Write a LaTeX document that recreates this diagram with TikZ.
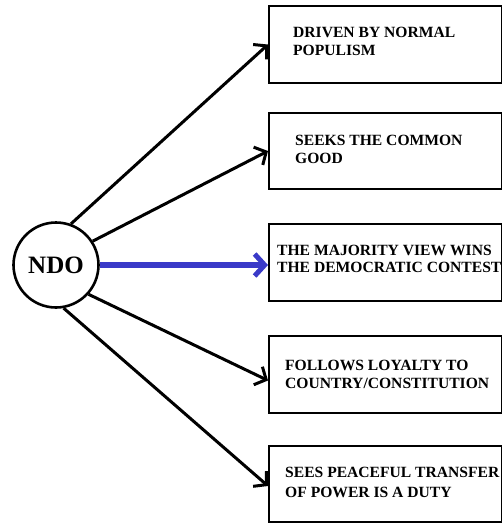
\documentclass[tikz,border=0pt]{standalone}
\usepackage{fontspec}
\setmainfont{Liberation Serif}
\usetikzlibrary{arrows.meta,calc}
\definecolor{arrowblue}{RGB}{58,58,200}
\begin{document}
\begin{tikzpicture}[x=1pt,y=-1pt,
  box/.style={draw=black,line width=2pt,rectangle,inner sep=0pt,anchor=north west},
  boxtext/.style={anchor=north west,inner sep=0pt,align=left,font=\bfseries\fontsize{15.6}{18}\selectfont},
  conn/.style={draw=black,line width=3pt,-{Straight Barb[length=9pt,width=20pt,line width=3pt]}},
  blueconn/.style={draw=arrowblue,line width=5.5pt,-{Straight Barb[length=10pt,width=22pt,line width=5pt]}}
]
\useasboundingbox (0,0) rectangle (502,523);
\node[draw=black,line width=2.6pt,circle,minimum size=85pt,inner sep=0pt,
      font=\bfseries\fontsize{25}{27}\selectfont] (ndo) at (56,265) {NDO};
\node[box,minimum width=233pt,minimum height=77pt] (b1) at (268,5) {};
\node[box,minimum width=233pt,minimum height=76pt] (b2) at (268,112) {};
\node[box,minimum width=233pt,minimum height=77pt] (b3) at (268,223) {};
\node[box,minimum width=233pt,minimum height=77pt] (b4) at (268,335) {};
\node[box,minimum width=233pt,minimum height=76pt] (b5) at (268,445) {};
\node[boxtext] (t1) at (293,27) {DRIVEN BY NORMAL\\POPULISM};
\node[boxtext] (t2) at (295,135) {SEEKS THE COMMON\\GOOD};
\node[boxtext,font=\bfseries\fontsize{15.6}{16.5}\selectfont] (t3) at (277,245) {THE MAJORITY VIEW WINS\\THE DEMOCRATIC CONTEST};
\node[boxtext] (t4) at (285,360) {FOLLOWS LOYALTY TO\\COUNTRY/CONSTITUTION};
\node[boxtext,font=\bfseries\fontsize{15.6}{20}\selectfont] (t5) at (285,467) {SEES PEACEFUL TRANSFER\\OF POWER IS A DUTY};
\draw[conn] (ndo.70) -- (b1.west);
\draw[conn] (ndo.33) -- (b2.west);
\draw[blueconn] (ndo.east) -- (ndo.east -| b3.west);
\draw[conn] (ndo.-42) -- ([yshift=-6pt]b4.west);
\draw[conn] (ndo.-80) -- ([yshift=-2pt]b5.west);
\end{tikzpicture}
\end{document}
